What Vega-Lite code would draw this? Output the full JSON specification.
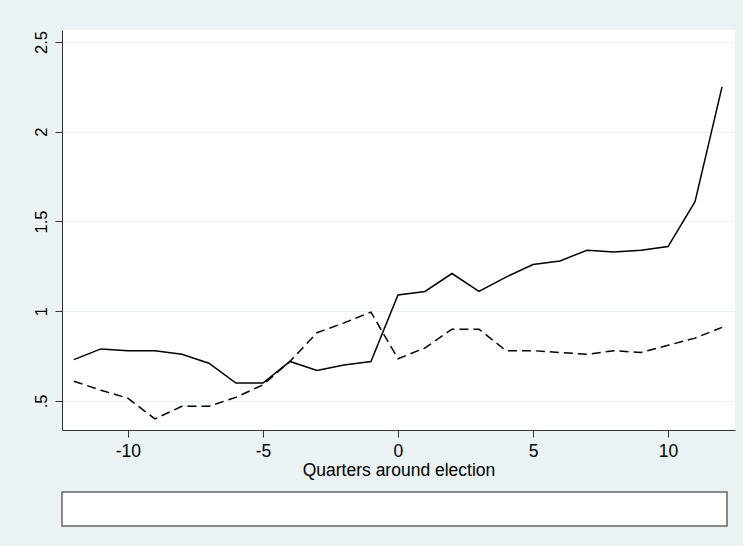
{
  "$schema": "https://vega.github.io/schema/vega-lite/v6.json",
  "background": "#EAF2F3",
  "padding": {"left": 33, "top": 30, "right": 8, "bottom": 19},
  "config": {
    "font": "Liberation Sans",
    "view": {"stroke": null},
    "axis": {"labelColor": "#000", "titleColor": "#000", "labelFont": "Liberation Sans", "titleFont": "Liberation Sans"}
  },
  "datasets": {
    "series": [
      {"q": -12, "solid": 0.73, "dashed": 0.61},
      {"q": -11, "solid": 0.79, "dashed": 0.56},
      {"q": -10, "solid": 0.78, "dashed": 0.515},
      {"q": -9, "solid": 0.78, "dashed": 0.40},
      {"q": -8, "solid": 0.76, "dashed": 0.47},
      {"q": -7, "solid": 0.71, "dashed": 0.47},
      {"q": -6, "solid": 0.60, "dashed": 0.52},
      {"q": -5, "solid": 0.60, "dashed": 0.59},
      {"q": -4, "solid": 0.72, "dashed": 0.72},
      {"q": -3, "solid": 0.67, "dashed": 0.88},
      {"q": -2, "solid": 0.70, "dashed": 0.935},
      {"q": -1, "solid": 0.72, "dashed": 0.995},
      {"q": 0, "solid": 1.09, "dashed": 0.735},
      {"q": 1, "solid": 1.11, "dashed": 0.795},
      {"q": 2, "solid": 1.21, "dashed": 0.90},
      {"q": 3, "solid": 1.11, "dashed": 0.90},
      {"q": 4, "solid": 1.19, "dashed": 0.78},
      {"q": 5, "solid": 1.26, "dashed": 0.78},
      {"q": 6, "solid": 1.28, "dashed": 0.77},
      {"q": 7, "solid": 1.34, "dashed": 0.76},
      {"q": 8, "solid": 1.33, "dashed": 0.78},
      {"q": 9, "solid": 1.34, "dashed": 0.77},
      {"q": 10, "solid": 1.36, "dashed": 0.81},
      {"q": 11, "solid": 1.61, "dashed": 0.85},
      {"q": 12, "solid": 2.25, "dashed": 0.91}
    ]
  },
  "vconcat": [
    {
      "width": 673,
      "height": 400,
      "view": {"fill": "white", "stroke": null},
      "data": {"name": "series"},
      "encoding": {
        "x": {
          "field": "q", "type": "quantitative",
          "scale": {"domain": [-12.44, 12.48], "nice": false, "zero": false},
          "axis": {
            "title": "Quarters around election",
            "values": [-10, -5, 0, 5, 10],
            "labelExpr": "'' + datum.value",
            "grid": false,
            "domainColor": "#333", "tickColor": "#333", "tickSize": 7,
            "labelFontSize": 17.5, "labelPadding": 5,
            "titleFontSize": 17.5, "titleFontWeight": "normal", "titlePadding": 2
          }
        }
      },
      "layer": [
        {
          "mark": {"type": "line", "color": "#000", "strokeWidth": 1.5},
          "encoding": {
            "y": {
              "field": "solid", "type": "quantitative",
              "scale": {"domain": [0.338, 2.567], "nice": false, "zero": false},
              "axis": {
                "title": null,
                "values": [0.5, 1, 1.5, 2, 2.5],
                "labelExpr": "datum.value == 0.5 ? '.5' : '' + datum.value",
                "grid": true, "gridColor": "#EAF2F3", "gridWidth": 1.2,
                "domainColor": "#333", "tickColor": "#333", "tickSize": 7,
                "labelFontSize": 16.5, "labelAngle": 270, "labelAlign": "center", "labelBaseline": "bottom", "labelPadding": 6
              }
            }
          }
        },
        {
          "mark": {"type": "line", "color": "#000", "strokeWidth": 1.5, "strokeDash": [9, 5]},
          "encoding": {
            "y": {"field": "dashed", "type": "quantitative"}
          }
        }
      ]
    },
    {
      "width": 665,
      "height": 34,
      "view": {"fill": "white", "stroke": "#666", "strokeWidth": 1.5},
      "data": {"values": [{"k": 1}]},
      "mark": {"type": "text", "text": ""},
      "encoding": {}
    }
  ],
  "spacing": 12
}
